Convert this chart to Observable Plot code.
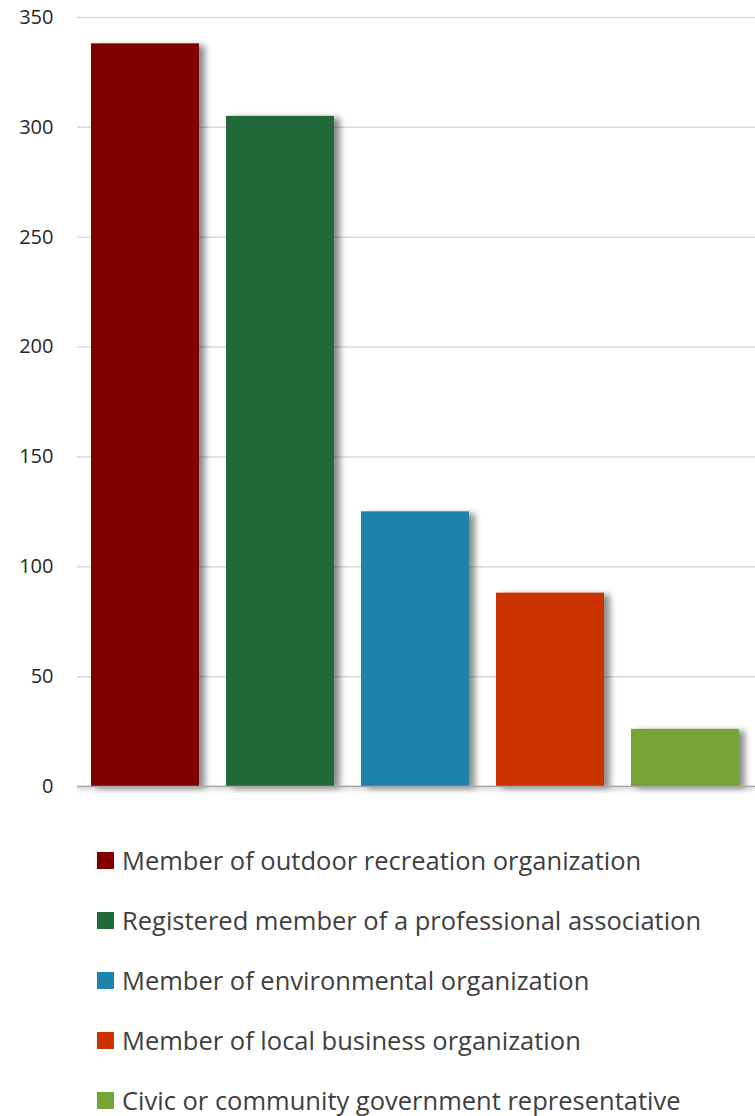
<!DOCTYPE html>
<html>
<head>
<meta charset="utf-8">
<script src="https://cdn.jsdelivr.net/npm/d3@7"></script>
<script src="https://cdn.jsdelivr.net/npm/@observablehq/plot@0.6"></script>
<style>
  html, body { margin: 0; padding: 0; background: #fff; }
  body { width: 755px; font-family: "Open Sans", sans-serif; }
  #chart svg { display: block; }
  #chart g[aria-label="bar"] rect { filter: drop-shadow(6px 2px 3px rgba(0,0,0,0.45)); }
  #chart g[aria-label="rule"] line { filter: drop-shadow(0px 2px 2px rgba(0,0,0,0.35)); }
  #legend { margin-left: 97px; margin-top: 30px; }
  .item { display: flex; align-items: center; height: 60px; font-size: 25.5px; color: #404040; }
  .sw { width: 17px; height: 17px; margin-right: 8px; flex: none; }
</style>
</head>
<body>
<div id="chart"></div>
<div id="legend"></div>
<script>
const categories = [
  "Member of outdoor recreation organization",
  "Registered member of a professional association",
  "Member of environmental organization",
  "Member of local business organization",
  "Civic or community government representative"
];
const values = [338, 305, 125, 88, 26];
const colors = ["#800000", "#236a3b", "#1c84aa", "#cc3300", "#76a436"];
const yTicks = [0, 50, 100, 150, 200, 250, 300, 350];

const data = categories.map((c, i) => ({category: c, value: values[i], color: colors[i]}));

const chart = Plot.plot({
  width: 755,
  height: 800,
  marginTop: 17,
  marginBottom: 14,
  marginLeft: 77,
  marginRight: 0,
  style: {fontFamily: "Open Sans, sans-serif", fontSize: "20px", color: "#262626", background: "#fff"},
  x: {domain: categories, range: [77, 752], paddingInner: 0.2, paddingOuter: 0.1, axis: null},
  y: {domain: [0, 350], ticks: yTicks, grid: false, label: null, tickSize: 0, tickPadding: 24},
  marks: [
    Plot.gridY(yTicks.filter(d => d > 0), {stroke: "#d9d9d9", strokeOpacity: 1, strokeWidth: 1.5}),
    Plot.barY(data, {x: "category", y: "value", fill: "color"}),
    Plot.ruleY([0], {stroke: "#a6a6a6", strokeWidth: 1.5})
  ]
});
document.getElementById("chart").appendChild(chart);

const legend = d3.select("#legend");
data.forEach(d => {
  const it = legend.append("div").attr("class", "item");
  it.append("div").attr("class", "sw").style("background", d.color);
  it.append("span").text(d.category);
});
</script>
</body>
</html>
